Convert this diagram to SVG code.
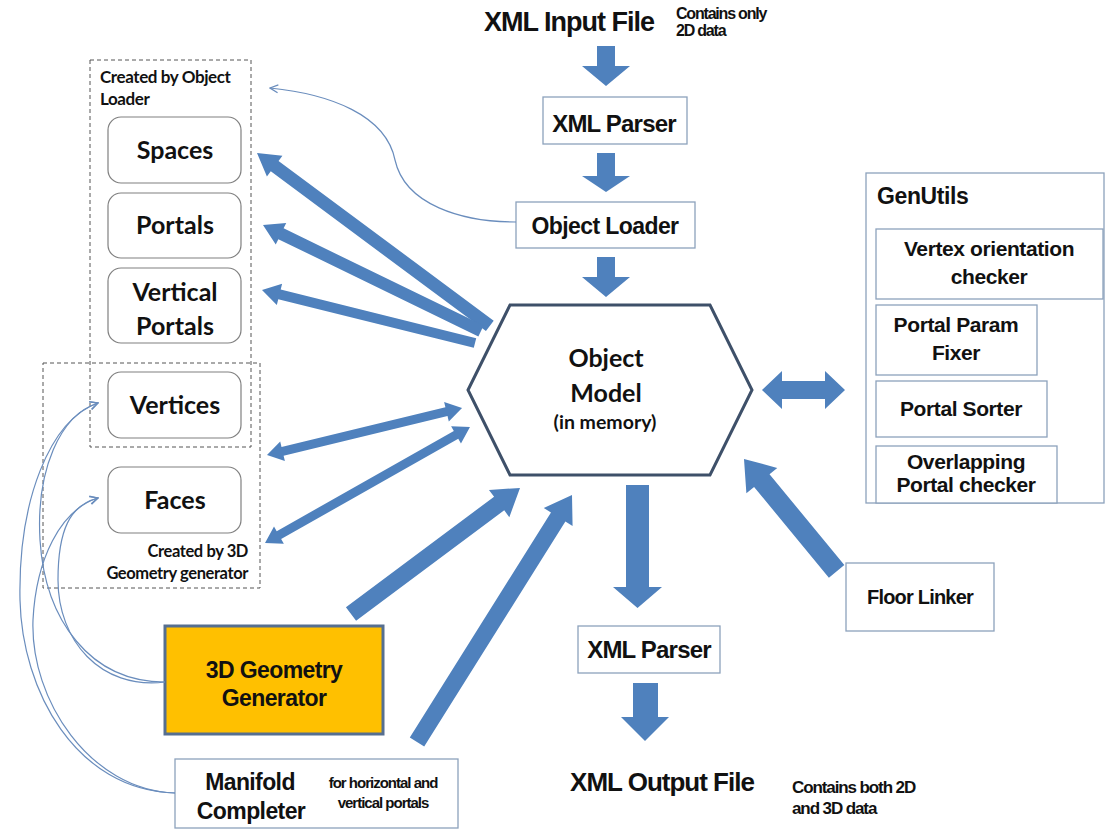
<svg xmlns="http://www.w3.org/2000/svg" width="1106" height="830" viewBox="0 0 1106 830">
  <defs>
    <marker id="open" viewBox="0 0 10 10" refX="9" refY="5" markerWidth="10" markerHeight="10" markerUnits="userSpaceOnUse" orient="auto">
      <path d="M1,1 L9,5 L1,9" fill="none" stroke="#6A8DBD" stroke-width="1.3"/>
    </marker>
  </defs>
  <style>
    .arial { font-family: "Liberation Sans", Arial, sans-serif; font-weight: bold; fill: #111; }
    .cal { font-family: Lato, "Noto Sans", sans-serif; font-weight: bold; fill: #111; }
    .box { fill: #fff; stroke: #8DA2BC; stroke-width: 1.3; }
    .rbox { fill: #fff; stroke: #808080; stroke-width: 1.2; }
    .dash { fill: none; stroke: #555; stroke-width: 1; stroke-dasharray: 4 3; }
    .fat { fill: #4F81BD; }
    .thin { fill: none; stroke: #6A8DBD; stroke-width: 1.2; marker-end: url(#open); }
    .mid { text-anchor: middle; }
    .util { font-size: 21px; letter-spacing: -0.4px; }
  </style>
  <rect width="1106" height="830" fill="#fff"/>

  <!-- input file heading -->
  <g id="input-file">
    <text class="arial mid" x="569" y="31" font-size="27" letter-spacing="-1">XML Input File</text>
    <text class="arial" x="676" y="19" font-size="16" letter-spacing="-1.2">Contains only</text>
    <text class="arial" x="676" y="36" font-size="16" letter-spacing="-1.2">2D data</text>
  </g>

  <!-- grouping frames on the left -->
  <g id="loader-group">
    <rect class="dash" x="90" y="60" width="161" height="387"/>
    <text class="cal" x="100" y="83" font-size="17" letter-spacing="-0.4">Created by Object</text>
    <text class="cal" x="100" y="105" font-size="17" letter-spacing="-0.4">Loader</text>
  </g>
  <g id="geometry-group">
    <rect class="dash" x="43" y="363" width="217" height="225"/>
    <text class="cal" x="248" y="557" font-size="16.5" letter-spacing="-0.4" text-anchor="end">Created by 3D</text>
    <text class="cal" x="248" y="579" font-size="16.5" letter-spacing="-0.4" text-anchor="end">Geometry generator</text>
  </g>

  <!-- data containers -->
  <g id="spaces">
    <rect class="rbox" x="108" y="117" width="133" height="66" rx="13"/>
    <text class="cal mid" x="175" y="159" font-size="25">Spaces</text>
  </g>
  <g id="portals">
    <rect class="rbox" x="108" y="193" width="133" height="65" rx="13"/>
    <text class="cal mid" x="175" y="234" font-size="25">Portals</text>
  </g>
  <g id="vertical-portals">
    <rect class="rbox" x="108" y="268" width="133" height="75" rx="13"/>
    <text class="cal mid" x="175" y="301" font-size="25">Vertical</text>
    <text class="cal mid" x="175" y="335" font-size="25">Portals</text>
  </g>
  <g id="vertices">
    <rect class="rbox" x="108" y="372" width="133" height="66" rx="13"/>
    <text class="cal mid" x="175" y="414" font-size="25">Vertices</text>
  </g>
  <g id="faces">
    <rect class="rbox" x="108" y="467" width="133" height="66" rx="13"/>
    <text class="cal mid" x="175" y="509" font-size="25">Faces</text>
  </g>

  <!-- pipeline -->
  <g id="xml-parser-in">
    <rect class="box" x="543" y="97" width="144" height="47"/>
    <text class="arial mid" x="614" y="132" font-size="24" letter-spacing="-0.8">XML Parser</text>
  </g>
  <g id="object-loader">
    <rect class="box" x="516" y="202" width="179" height="46"/>
    <text class="arial mid" x="605" y="234" font-size="23" letter-spacing="-0.6">Object Loader</text>
  </g>
  <g id="object-model">
    <polygon points="468,390 510,305 710,305 752,390 710,475 510,475" fill="#fff" stroke="#3E5069" stroke-width="3"/>
    <text class="cal mid" x="606" y="367" font-size="25">Object</text>
    <text class="cal mid" x="606" y="402" font-size="25">Model</text>
    <text class="cal mid" x="605" y="429" font-size="19.5">(in memory)</text>
  </g>
  <g id="xml-parser-out">
    <rect class="box" x="578" y="626" width="142" height="47"/>
    <text class="arial mid" x="649" y="658" font-size="24" letter-spacing="-0.8">XML Parser</text>
  </g>
  <g id="output-file">
    <text class="arial mid" x="662" y="791" font-size="26" letter-spacing="-1">XML Output File</text>
    <text class="arial" x="792" y="793" font-size="17" letter-spacing="-1.1">Contains both 2D</text>
    <text class="arial" x="792" y="814" font-size="17" letter-spacing="-1.1">and 3D data</text>
  </g>

  <!-- utilities -->
  <g id="genutils">
    <rect class="box" x="866" y="173" width="238" height="330"/>
    <text class="arial" x="877" y="204" font-size="23" letter-spacing="-0.4">GenUtils</text>
  </g>
  <g id="vertex-orientation-checker">
    <rect class="box" x="876" y="229" width="227" height="70"/>
    <text class="arial mid util" x="989" y="256">Vertex orientation</text>
    <text class="arial mid util" x="989" y="284">checker</text>
  </g>
  <g id="portal-param-fixer">
    <rect class="box" x="876" y="305" width="161" height="70"/>
    <text class="arial mid util" x="956" y="332">Portal Param</text>
    <text class="arial mid util" x="956" y="360">Fixer</text>
  </g>
  <g id="portal-sorter">
    <rect class="box" x="876" y="381" width="171" height="56"/>
    <text class="arial mid util" x="961" y="416">Portal Sorter</text>
  </g>
  <g id="overlapping-portal-checker">
    <rect class="box" x="876" y="446" width="181" height="57"/>
    <text class="arial mid util" x="966" y="469">Overlapping</text>
    <text class="arial mid util" x="966" y="492">Portal checker</text>
  </g>
  <g id="floor-linker">
    <rect class="box" x="846" y="563" width="148" height="68"/>
    <text class="arial mid" x="920" y="604" font-size="20" letter-spacing="-0.8">Floor Linker</text>
  </g>

  <!-- generators -->
  <g id="geometry-generator">
    <rect x="165" y="626" width="218" height="108" fill="#FFC000" stroke="#566F90" stroke-width="3"/>
    <text class="arial mid" x="274" y="678" font-size="23" letter-spacing="-0.6">3D Geometry</text>
    <text class="arial mid" x="274" y="706" font-size="23" letter-spacing="-0.6">Generator</text>
  </g>
  <g id="manifold-completer">
    <rect class="box" x="175" y="759" width="283" height="69"/>
    <text class="arial mid" x="250" y="790" font-size="23" letter-spacing="-0.6">Manifold</text>
    <text class="arial mid" x="251" y="819" font-size="23" letter-spacing="-0.6">Completer</text>
    <text class="arial mid" x="383" y="788" font-size="15" letter-spacing="-1">for horizontal and</text>
    <text class="arial mid" x="383" y="808" font-size="15" letter-spacing="-1">vertical portals</text>
  </g>

  <!-- connectors -->
  <g id="connectors">
    <!-- main pipeline block arrows -->
    <polygon class="fat" points="597,46 615,46 615,66 630,66 606,86 582,66 597,66"/>
    <polygon class="fat" points="597,153 615,153 615,176 630,176 606,192 582,176 597,176"/>
    <polygon class="fat" points="597,257 615,257 615,277 630,277 606,297 582,277 597,277"/>
    <polygon class="fat" points="626,485 649,485 649,587 662,587 637.5,608 613,587 626,587"/>
    <polygon class="fat" points="633,683 658,683 658,717 669,717 645,741 621,717 633,717"/>

    <!-- model to loader-created containers -->
    <polygon class="fat" points="-290,-6.5 -22,-6.5 -22,-13 0,0 -22,13 -22,6.5 -290,6.5" transform="translate(257,153) rotate(216.6)"/>
    <polygon class="fat" points="-242.4,-6 -20,-6 -20,-12 0,0 -20,12 -20,6 -242.4,6" transform="translate(263,225) rotate(205.93)"/>
    <polygon class="fat" points="-219.5,-5 -18,-5 -18,-11 0,0 -18,11 -18,5 -219.5,5" transform="translate(262,290) rotate(193.97)"/>

    <!-- model to and from geometry containers -->
    <polygon class="fat" points="0,0 16,-10 16,-4.5 184.6,-4.5 184.6,-10 200.6,0 184.6,10 184.6,4.5 16,4.5 16,10" transform="translate(267,455) rotate(-13.55)"/>
    <polygon class="fat" points="0,0 16,-10 16,-4.5 219.5,-4.5 219.5,-10 235.5,0 219.5,10 219.5,4.5 16,4.5 16,10" transform="translate(265,543) rotate(-29.5)"/>

    <!-- generators into the model -->
    <polygon class="fat" points="-210.8,-8.5 -26,-8.5 -26,-17 0,0 -26,17 -26,8.5 -210.8,8.5" transform="translate(520,488) rotate(-36.71)"/>
    <polygon class="fat" points="-291.6,-8.5 -26,-8.5 -26,-17 0,0 -26,17 -26,8.5 -291.6,8.5" transform="translate(572,495) rotate(-57.89)"/>

    <!-- floor linker into the model -->
    <polygon class="fat" points="-145.6,-10 -28,-10 -28,-20 0,0 -28,20 -28,10 -145.6,10" transform="translate(744,459) rotate(-129.5)"/>

    <!-- model and utilities -->
    <polygon class="fat" points="762,390 782,371 782,381 825,381 825,371 845,390 825,409 825,399 782,399 782,409"/>

    <!-- thin "creates" links -->
    <path class="thin" d="M516,222 C462,222 405,205 395,160 C386,115 330,94 270,88"/>
    <path class="thin" d="M165,682 C90,682 45,620 40,540 C36,470 60,415 98,403"/>
    <path class="thin" d="M175,793 C75,790 22,690 20,600 C18,500 50,420 98,403"/>
    <path class="thin" d="M165,682 C100,690 58,640 58,580 C58,530 70,505 98,498"/>
    <path class="thin" d="M175,793 C90,790 30,700 33,620 C36,560 60,510 98,498"/>
  </g>
</svg>
